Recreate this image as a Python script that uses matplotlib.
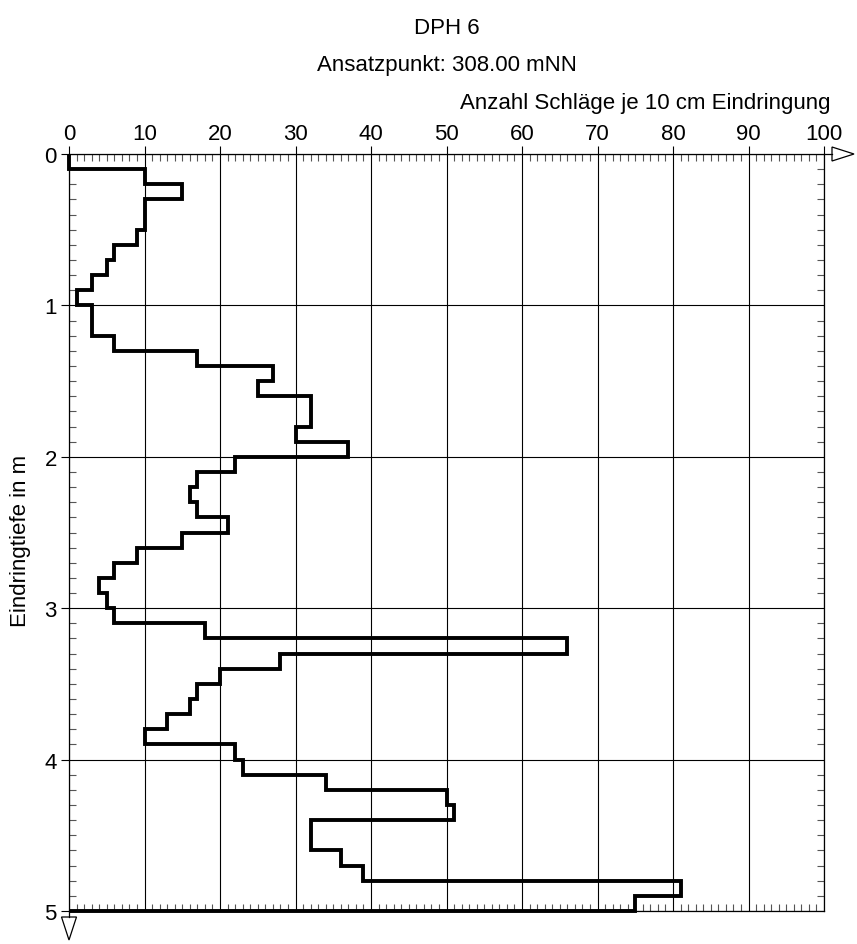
import numpy as np
import matplotlib
matplotlib.use("Agg")
import matplotlib.pyplot as plt
from matplotlib.patches import Polygon
from matplotlib.lines import Line2D
from matplotlib.ticker import MultipleLocator

plt.rcParams['font.family'] = ['Liberation Sans', 'DejaVu Sans']
plt.rcParams['font.size'] = 16

# Dynamic probing DPH 6: blows per 10 cm of penetration, layer by layer from 0.0 m
layer_thickness = 0.1
blows = [0, 10, 15, 10, 10, 9, 6, 5, 3, 1,
         3, 3, 6, 17, 27, 25, 32, 32, 30, 37,
         22, 17, 16, 17, 21, 15, 9, 6, 4, 5,
         6, 18, 66, 28, 20, 17, 16, 13, 10, 22,
         23, 34, 50, 51, 32, 32, 36, 39, 81, 75]
depth_edges = np.round(np.arange(len(blows) + 1) * layer_thickness, 2)

x_ticks = list(range(0, 101, 10))
y_ticks = [0, 1, 2, 3, 4, 5]

title = "DPH 6"
subtitle = "Ansatzpunkt: 308.00 mNN"
x_label = "Anzahl Schläge je 10 cm Eindringung"
y_label = "Eindringtiefe in m"

W_PX, H_PX = 857, 945
fig = plt.figure(figsize=(W_PX / 100, H_PX / 100), dpi=100)
ax_l, ax_r, ax_t, ax_b = 69, 824, 155, 912
ax = fig.add_axes([ax_l / W_PX, 1 - ax_b / H_PX,
                   (ax_r - ax_l) / W_PX, (ax_b - ax_t) / H_PX])
aw, ah = ax_r - ax_l, ax_b - ax_t

ax.set_xlim(0, 100)
ax.set_ylim(5, 0)

# grid
ax.set_xticks(x_ticks)
ax.set_yticks(y_ticks)
ax.xaxis.set_minor_locator(MultipleLocator(1))
ax.yaxis.set_minor_locator(MultipleLocator(0.1))
ax.grid(True, which='major', color='black', lw=0.8)
ax.set_axisbelow(True)

ax.xaxis.tick_top()
ax.tick_params(axis='x', which='major', top=True, bottom=False, direction='out',
               length=5.5, width=0.8, pad=2.0, labelsize=16)
ax.tick_params(axis='x', which='minor', top=True, bottom=True, direction='in',
               length=5.2, width=0.8, color='#555555')
ax.tick_params(axis='y', which='major', left=True, right=False, direction='out',
               length=5.8, width=0.8, pad=3.0, labelsize=16)
ax.tick_params(axis='y', which='minor', left=True, right=True, direction='in',
               length=5.2, width=0.8, color='#555555')

for sp in ax.spines.values():
    sp.set_linewidth(0.9)

# step profile of the blow counts
ax.stairs(blows, depth_edges, orientation='horizontal', baseline=0,
          color='black', lw=2.8, clip_on=False, zorder=5)

# axis arrows
tr = ax.transAxes
ax.add_line(Line2D([1, 1 + 8 / aw], [1, 1], transform=tr, color='black',
                   lw=0.9, clip_on=False))
ax.add_patch(Polygon([(1 + 8 / aw, 1 + 7 / ah), (1 + 8 / aw, 1 - 7 / ah),
                      (1 + 30 / aw, 1)], closed=True, transform=tr,
                     facecolor='white', edgecolor='black', lw=0.9, clip_on=False))
ax.add_line(Line2D([0, 0], [0, -6 / ah], transform=tr, color='black',
                   lw=0.9, clip_on=False))
ax.add_patch(Polygon([(-7.5 / aw, -6 / ah), (7.5 / aw, -6 / ah),
                      (0, -29 / ah)], closed=True, transform=tr,
                     facecolor='white', edgecolor='black', lw=0.9, clip_on=False))

# texts
cx = (ax_l + ax_r) / 2 / W_PX
fig.text(cx, 1 - 34 / H_PX, title, ha='center', va='baseline', fontsize=16)
fig.text(cx, 1 - 71 / H_PX, subtitle, ha='center', va='baseline', fontsize=16)
fig.text(830 / W_PX, 1 - 109 / H_PX, x_label, ha='right', va='baseline', fontsize=16)
fig.text(21 / W_PX, 1 - 541 / H_PX, y_label, ha='center', va='center',
         rotation=90, fontsize=16)

fig.savefig("out.png", dpi=100, facecolor='white')
